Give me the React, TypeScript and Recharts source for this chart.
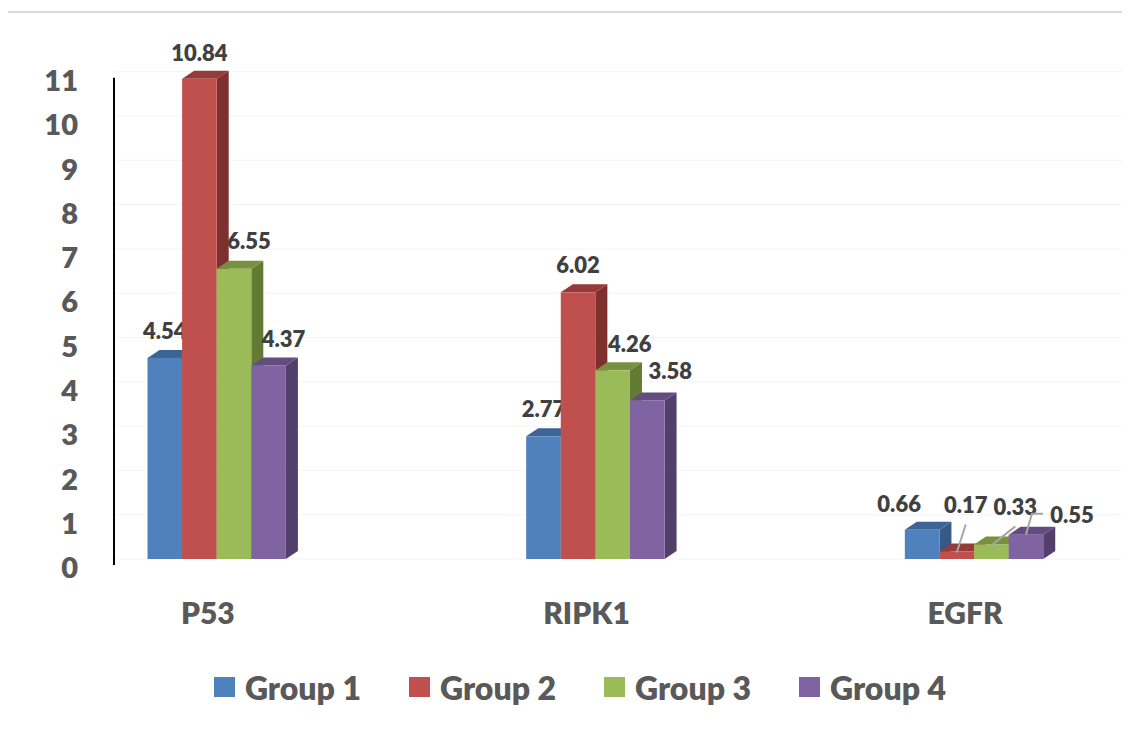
import React from "react";
import {
  BarChart,
  Bar,
  XAxis,
  YAxis,
  CartesianGrid,
  Legend,
} from "recharts";

const CATEGORIES = ["P53", "RIPK1", "EGFR"];
const GROUP_1 = [4.54, 2.77, 0.66];
const GROUP_2 = [10.84, 6.02, 0.17];
const GROUP_3 = [6.55, 4.26, 0.33];
const GROUP_4 = [4.37, 3.58, 0.55];
const Y_TICKS = [0, 1, 2, 3, 4, 5, 6, 7, 8, 9, 10, 11];

const data = CATEGORIES.map((name, i) => ({
  name,
  g1: GROUP_1[i],
  g2: GROUP_2[i],
  g3: GROUP_3[i],
  g4: GROUP_4[i],
}));

// front / top / side colours for the 3d look
const SERIES = [
  { key: "g1", name: "Group 1", front: "#4F81BD", top: "#3C6595", side: "#375A84" },
  { key: "g2", name: "Group 2", front: "#C0504D", top: "#963B39", side: "#7E302E" },
  { key: "g3", name: "Group 3", front: "#9BBB59", top: "#77923F", side: "#637A35" },
  { key: "g4", name: "Group 4", front: "#8064A2", top: "#634C80", side: "#533F6B" },
];

// label nudges [dx, dy] per series per category (as placed in the original)
const LABEL_NUDGE = [
  [[0, 0], [0, 0], [-23, 1]],
  [[0, 1], [0, 0], [9, -19]],
  [[15, -1], [17, 1], [24, -10]],
  [[15, 1], [23, -2], [46, 7]],
];
const LEADER = [
  [false, false, false],
  [false, false, true],
  [false, false, true],
  [false, false, true],
];

const DEPTH_X = 12;
const DEPTH_Y = 8;
const FONT = "Lato, 'Open Sans', sans-serif";
const WEIGHT = 800;

const makeShape = (s: number) => (props: any) => {
  const { x, y, width: w, height: h, index, value } = props;
  const c = SERIES[s];
  const v = Array.isArray(value) ? value[1] - value[0] : value;
  const [dx, dy] = LABEL_NUDGE[s][index];
  const cx = x + w / 2;
  const lx = cx + dx;
  const base = y - 19 + dy;
  const far = dx > 35;
  return (
    <g>
      <polygon
        points={`${x + w},${y} ${x + w + DEPTH_X},${y - DEPTH_Y} ${x + w + DEPTH_X},${y + h - DEPTH_Y} ${x + w},${y + h}`}
        fill={c.side}
      />
      <polygon
        points={`${x},${y} ${x + DEPTH_X},${y - DEPTH_Y} ${x + w + DEPTH_X},${y - DEPTH_Y} ${x + w},${y}`}
        fill={c.top}
      />
      <rect x={x} y={y} width={w} height={h} fill={c.front} />
      {LEADER[s][index] &&
        (far ? (
          <polyline
            points={`${cx},${y} ${cx + 6},${base - 9} ${lx - 29},${base - 9}`}
            fill="none"
            stroke="#a6a6a6"
            strokeWidth={2}
          />
        ) : (
          <line x1={cx} y1={y + 1} x2={lx} y2={base + 11} stroke="#a6a6a6" strokeWidth={2} />
        ))}
      <text
        x={lx}
        y={base}
        textAnchor="middle"
        fontFamily={FONT}
        fontWeight={WEIGHT}
        fontSize={22}
        fill="#404040"
      >
        {v.toFixed(2)}
      </text>
    </g>
  );
};

const YTick = (props: any) => {
  const { x, y, payload } = props;
  return (
    <text
      x={x}
      y={y + 9}
      dy="0.355em"
      textAnchor="end"
      fontFamily={FONT}
      fontWeight={WEIGHT}
      fontSize={29}
      fill="#595959"
    >
      {payload.value}
    </text>
  );
};

const XTick = (props: any) => {
  const { x, y, payload } = props;
  return (
    <text
      x={x - 9}
      y={y}
      dy="0.71em"
      textAnchor="middle"
      fontFamily={FONT}
      fontWeight={WEIGHT}
      fontSize={30}
      fill="#595959"
    >
      {payload.value}
    </text>
  );
};

const LegendContent = () => (
  <div
    style={{
      display: "flex",
      justifyContent: "center",
      alignItems: "center",
      gap: 48,
      height: 40,
      fontFamily: FONT,
      fontWeight: WEIGHT,
      fontSize: 32,
      color: "#595959",
    }}
  >
    {SERIES.map((s) => (
      <div key={s.key} style={{ display: "flex", alignItems: "center", gap: 10 }}>
        <span style={{ width: 21, height: 20, background: s.front, display: "inline-block" }} />
        <span>{s.name}</span>
      </div>
    ))}
  </div>
);

export default function App() {
  return (
    <div
      style={{
        marginTop: 3,
        marginLeft: -2,
        borderTop: "2px solid #d9d9d9",
        borderLeft: "2px solid #d9d9d9",
        width: 1122,
        height: 702,
        fontFamily: FONT,
      }}
    >
      <BarChart
        width={1120}
        height={700}
        data={data}
        margin={{ top: 58.7, right: 0, left: 0, bottom: 14 }}
        barGap={0}
        barSize={34.6}
      >
        <CartesianGrid vertical={false} stroke="#f4f4f4" />
        <XAxis
          dataKey="name"
          padding={{ left: -86.5, right: -35.5 }}
          axisLine={false}
          tickLine={false}
          tickSize={0}
          tickMargin={44}
          height={100}
          tick={<XTick />}
          interval={0}
        />
        <YAxis
          domain={[0, 11]}
          ticks={Y_TICKS}
          interval={0}
          width={106}
          tickLine={false}
          tickSize={0}
          tickMargin={36}
          axisLine={{ stroke: "#000", strokeWidth: 2, transform: "translate(0,6)" }}
          tick={<YTick />}
        />
        <Legend
          verticalAlign="bottom"
          content={<LegendContent />}
          wrapperStyle={{ top: 654, left: 12, width: 1120, height: 40 }}
        />
        {SERIES.map((s, i) => (
          <Bar
            key={s.key}
            dataKey={s.key}
            name={s.name}
            fill={s.front}
            shape={makeShape(i)}
            isAnimationActive={false}
          />
        ))}
      </BarChart>
    </div>
  );
}
